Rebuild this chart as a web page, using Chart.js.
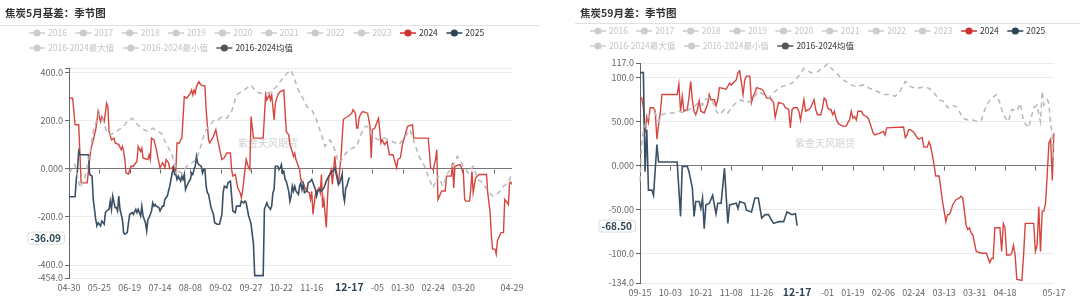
<!DOCTYPE html>
<html>
<head>
<meta charset="utf-8">
<script src="https://cdn.jsdelivr.net/npm/chart.js@4.4.1/dist/chart.umd.min.js"></script>
<style>
  html, body { margin: 0; padding: 0; background: #fff; }
  body { width: 1080px; height: 301px; position: relative; overflow: hidden; }
  canvas { position: absolute; top: 0; }
  #basis { left: 0; }
  #spread { left: 575px; }
</style>
</head>
<body>
<canvas id="basis" width="540" height="301"></canvas>
<canvas id="spread" width="505" height="301"></canvas>
<script>
const FONT = '"Noto Sans CJK SC", "Noto Sans", sans-serif';

// legend shared by both panels (only 2024, 2025 and the mean are switched on)
const legendNames = ['2016', '2017', '2018', '2019', '2020', '2021', '2022', '2023', '2024', '2025',
  '2016-2024最大值', '2016-2024最小值', '2016-2024均值'];
const legendColors = ['#ccc', '#ccc', '#ccc', '#ccc', '#ccc', '#ccc', '#ccc', '#ccc', '#d0332e', '#2f4554',
  '#ccc', '#ccc', '#555'];
const legendActive = [0, 0, 0, 0, 0, 0, 0, 0, 1, 1, 0, 0, 1];
const legendRowBreak = 10;

// ---- 焦炭5月基差 ----
const basis2024 = [
  ['04-30', 294], ['05-03', 294], ['05-05', 184], ['05-08', 184], ['05-10', -58], ['05-15', -58],
  ['05-17', 39], ['05-18', 80], ['05-20', 121], ['05-22', 163], ['05-23', 197], ['05-24', 239],
  ['05-26', 197], ['05-27', 218], ['05-29', 197], ['05-31', 273], ['06-01', 260], ['06-02', 156],
  ['06-04', 121], ['06-06', 128], ['06-07', 108], ['06-10', 101], ['06-12', 80], ['06-13', 94],
  ['06-14', 73], ['06-15', 39], ['06-16', -17], ['06-18', -21], ['06-20', 11], ['06-22', 11],
  ['06-25', 32], ['06-26', 94], ['06-28', 73], ['06-29', 87], ['06-30', 46], ['07-04', 39],
  ['07-05', 59], ['07-06', 39], ['07-07', 128], ['07-09', 121], ['07-11', 80], ['07-12', 52],
  ['07-14', 4], ['07-16', 25], ['07-17', 18], ['07-18', 4], ['07-19', 39], ['07-21', 25],
  ['07-22', 0], ['07-24', 4], ['07-25', 11], ['07-27', -10], ['07-28', 108], ['07-30', 108],
  ['07-31', 121], ['08-01', 128], ['08-03', 301], ['08-05', 294], ['08-07', 308], ['08-08', 315],
  ['08-09', 328], ['08-10', 308], ['08-11', 328], ['08-12', 315], ['08-13', 342], ['08-15', 363],
  ['08-17', 349], ['08-20', 345], ['08-21', 246], ['08-23', 121], ['08-24', 108], ['08-27', 135],
  ['08-29', 163], ['08-31', 108], ['09-03', 39], ['09-05', 46], ['09-07', 66], ['09-10', 66],
  ['09-11', -3], ['09-12', -30], ['09-14', -23], ['09-16', -79], ['09-18', -99], ['09-19', -120],
  ['09-20', -93], ['09-22', -3], ['09-23', 39], ['09-25', 4], ['09-26', -3], ['09-27', 218],
  ['09-29', 128], ['10-07', 128], ['10-09', 308], ['10-10', 287], ['10-12', 308], ['10-13', 287],
  ['10-14', 308], ['10-16', 204], ['10-17', 273], ['10-19', 308], ['10-21', 322], ['10-24', 328],
  ['10-26', 156], ['10-28', 142], ['10-29', 101], ['10-30', 87], ['11-01', 52], ['11-02', 66],
  ['11-03', 39], ['11-04', 25], ['11-06', -3], ['11-07', -44], ['11-09', -58], ['11-10', -72],
  ['11-12', -93], ['11-14', -99], ['11-15', -127], ['11-16', -93], ['11-17', -189], ['11-19', -106],
  ['11-20', -93], ['11-22', -79], ['11-23', -99], ['11-24', -23], ['11-25', -161], ['11-26', -127],
  ['11-28', -244], ['11-29', -120], ['11-30', -37], ['12-02', -3], ['12-03', -65], ['12-05', 52],
  ['12-06', -3], ['12-08', -58], ['12-10', 39], ['12-12', 204], ['12-13', 211], ['12-16', 218],
  ['12-19', 232], ['12-20', 246], ['12-22', 232], ['12-23', 170], ['12-24', 170], ['12-25', 211],
  ['12-26', 225], ['12-28', 239], ['01-01', 232], ['01-03', 177], ['01-04', 46], ['01-05', 163],
  ['01-07', 170], ['01-10', 211], ['01-11', 163], ['01-12', 108], ['01-13', 121], ['01-15', 101],
  ['01-17', 115], ['01-18', 87], ['01-19', 59], ['01-22', 59], ['01-23', 39], ['01-25', 4],
  ['01-26', 39], ['01-28', 46], ['01-30', 108], ['02-01', 142], ['02-03', 177], ['02-07', 184],
  ['02-08', 128], ['02-20', 128], ['02-22', 4], ['02-24', -3], ['02-26', 39], ['02-27', 80],
  ['02-28', -127], ['03-02', -92], ['03-05', -92], ['03-06', -30], ['03-10', -30], ['03-11', 25],
  ['03-12', -79], ['03-13', 11], ['03-17', 18], ['03-18', 11], ['03-20', -23], ['03-21', -127],
  ['03-22', -134], ['03-25', -134], ['03-26', -86], ['03-27', -10], ['03-28', -99], ['03-30', -37],
  ['04-02', -23], ['04-08', -23], ['04-09', -99], ['04-11', -182], ['04-12', -279], ['04-13', -334],
  ['04-15', -334], ['04-16', -355], ['04-17', -299], ['04-20', -265], ['04-22', -265], ['04-23', -127],
  ['04-25', -140], ['04-26', -148], ['04-27', -58], ['04-28', -55], ['04-29', -65]
];
const basis2025 = [
  ['04-30', -116], ['05-05', -116], ['05-06', -44], ['05-07', -3], ['05-08', 73], ['05-09', 59],
  ['05-16', 59], ['05-17', -23], ['05-19', -30], ['05-20', -127], ['05-22', -210], ['05-23', -237],
  ['05-24', -224], ['05-26', -237], ['05-27', -217], ['05-29', -230], ['05-30', -182], ['05-31', -175],
  ['06-02', -168], ['06-03', -134], ['06-04', -168], ['06-05', -113], ['06-07', -161], ['06-08', -161],
  ['06-09', -175], ['06-10', -113], ['06-11', -168], ['06-13', -210], ['06-14', -265], ['06-15', -272],
  ['06-17', -265], ['06-18', -224], ['06-19', -189], ['06-21', -182], ['06-22', -189], ['06-24', -168],
  ['06-25', -182], ['06-26', -168], ['06-28', -196], ['06-29', -155], ['06-30', -196], ['07-02', -224],
  ['07-03', -258], ['07-04', -210], ['07-05', -203], ['07-07', -175], ['07-08', -141], ['07-09', -155],
  ['07-10', -148], ['07-11', -155], ['07-13', -161], ['07-14', -175], ['07-16', -155], ['07-17', -155],
  ['07-18', -127], ['07-20', -113], ['07-21', -92], ['07-22', -72], ['07-23', -44], ['07-24', -17],
  ['07-25', 4], ['07-26', -23], ['07-27', -23], ['07-28', -44], ['07-29', -30], ['07-31', -51],
  ['08-01', -30], ['08-02', -44], ['08-03', -23], ['08-04', -86], ['08-05', -72], ['08-07', -51],
  ['08-08', -44], ['08-09', -17], ['08-10', -23], ['08-11', -3], ['08-12', 11], ['08-13', 52],
  ['08-14', 25], ['08-15', 18], ['08-17', 11], ['08-18', -17], ['08-19', -3], ['08-20', -3],
  ['08-21', -72], ['08-22', -99], ['08-23', -106], ['08-25', -161], ['08-27', -189], ['08-28', -224],
  ['08-30', -230], ['09-01', -230], ['09-03', -189], ['09-04', -99], ['09-05', -72], ['09-07', -79],
  ['09-08', -58], ['09-10', -51], ['09-11', -113], ['09-12', -175], ['09-14', -182], ['09-15', -155],
  ['09-18', -155], ['09-19', -134], ['09-21', -141], ['09-22', -134], ['09-23', -141], ['09-25', -196],
  ['09-26', -210], ['09-27', -230], ['09-29', -313], ['09-30', -444], ['10-07', -444], ['10-08', -168],
  ['10-10', -141], ['10-11', -155], ['10-13', -168], ['10-14', -155], ['10-15', -99], ['10-16', -86],
  ['10-17', 11], ['10-19', 11], ['10-20', -3], ['10-21', 4], ['10-22', 18], ['10-23', -17],
  ['10-24', -10], ['10-25', -44], ['10-26', -51], ['10-28', -92], ['10-29', -134], ['10-30', -113],
  ['10-31', -72], ['11-01', -92], ['11-02', -72], ['11-03', -92], ['11-05', -106], ['11-06', -72],
  ['11-07', -58], ['11-08', -86], ['11-09', -65], ['11-10', -99], ['11-12', -92], ['11-13', -58],
  ['11-15', -51], ['11-16', -44], ['11-17', -58], ['11-19', -86], ['11-20', -113], ['11-21', -92],
  ['11-23', -86], ['11-24', -92], ['11-26', -79], ['11-27', -65], ['11-28', -51], ['11-30', -30],
  ['12-01', -23], ['12-02', -17], ['12-04', -3], ['12-05', 4], ['12-06', -17], ['12-08', -65],
  ['12-09', -58], ['12-11', -23], ['12-12', -106], ['12-13', -134], ['12-14', -79], ['12-15', -72],
  ['12-16', -51], ['12-17', -36.09]
];
const basisMean = [
  ['04-30', -17], ['05-03', 4], ['05-05', 18], ['05-09', -79], ['05-13', -37], ['05-17', 59],
  ['05-20', 156], ['05-23', 204], ['05-25', 232], ['05-28', 204], ['05-31', 156], ['06-03', 142],
  ['06-08', 156], ['06-14', 177], ['06-18', 204], ['06-21', 211], ['06-23', 197], ['06-27', 177],
  ['07-01', 163], ['07-04', 156], ['07-08', 170], ['07-12', 156], ['07-15', 149], ['07-18', 115],
  ['07-21', 87], ['07-24', 59], ['07-26', 18], ['07-29', -10], ['08-01', -17], ['08-05', 11],
  ['08-09', 25], ['08-13', 39], ['08-17', 101], ['08-20', 156], ['08-23', 175], ['08-27', 200],
  ['08-31', 204], ['09-03', 218], ['09-07', 211], ['09-11', 239], ['09-15', 308], ['09-19', 322],
  ['09-23', 335], ['09-27', 349], ['10-01', 322], ['10-04', 315], ['10-07', 315], ['10-11', 315],
  ['10-18', 342], ['10-23', 377], ['10-27', 400], ['10-30', 411], ['11-02', 370], ['11-05', 328],
  ['11-08', 301], ['11-12', 259], ['11-16', 246], ['11-20', 204], ['11-24', 142], ['11-27', 94],
  ['12-01', 121], ['12-05', 80], ['12-08', 25], ['12-11', 39], ['12-13', 59], ['12-17', 80],
  ['12-23', 94], ['12-27', 149], ['12-30', 177], ['01-01', 177], ['01-05', 135], ['01-10', 121],
  ['01-15', 128], ['01-21', 115], ['01-27', 101], ['02-01', 135], ['02-05', 163], ['02-09', 101],
  ['02-13', 46], ['02-17', 11], ['02-21', -44], ['02-24', -79], ['02-28', -30], ['03-03', -72],
  ['03-07', -17], ['03-11', 11], ['03-15', 52], ['03-20', 11], ['03-24', -17], ['03-28', 11],
  ['04-01', -44], ['04-05', -58], ['04-09', -92], ['04-13', -113], ['04-18', -99], ['04-22', -72],
  ['04-26', -58], ['04-29', -17]
];
const basisYTicks = [-454, -400, -200, 0, 200, 400, 420];
const basisYLabels = ['-454.0', '-400.0', '-200.0', '0.000', '200.0', '400.0', ''];
const basisXTicks = ['04-30', '05-25', '06-19', '07-14', '08-08', '09-02', '09-27', '10-22', '11-16',
  '12-11', '01-05', '01-30', '02-24', '03-20', '04-14'];
const basisXHidden = ['12-11', '04-14'];

// ---- 焦炭59月差 ----
const spread2024 = [
  ['09-15', 77], ['09-16', 77], ['09-17', 66], ['09-18', 37], ['09-19', 56], ['09-20', 49],
  ['09-21', 66], ['09-23', 66], ['09-24', 62], ['09-25', 30], ['09-26', 47], ['09-27', 60],
  ['09-28', 81], ['10-07', 81], ['10-08', 93], ['10-09', 62], ['10-10', 79], ['10-11', 62],
  ['10-13', 64], ['10-14', 78], ['10-15', 96], ['10-16', 74], ['10-17', 62], ['10-18', 58],
  ['10-19', 64], ['10-20', 74], ['10-21', 62], ['10-23', 60], ['10-25', 70], ['10-26', 81],
  ['10-27', 75], ['10-29', 75], ['10-30', 68], ['10-31', 75], ['11-01', 89], ['11-05', 87],
  ['11-07', 94], ['11-08', 92], ['11-10', 96], ['11-11', 98], ['11-12', 106], ['11-13', 108],
  ['11-15', 81], ['11-16', 98], ['11-17', 102], ['11-19', 102], ['11-20', 72], ['11-21', 79],
  ['11-22', 83], ['11-23', 89], ['11-26', 87], ['11-27', 85], ['11-29', 77], ['12-01', 77],
  ['12-03', 72], ['12-04', 55], ['12-06', 72], ['12-09', 70], ['12-10', 66], ['12-12', 64],
  ['12-13', 43], ['12-14', 64], ['12-15', 66], ['12-17', 66], ['12-18', 62], ['12-19', 52],
  ['12-21', 75], ['12-22', 62], ['12-24', 64], ['12-25', 66], ['12-27', 75], ['12-28', 64],
  ['12-29', 58], ['12-31', 58], ['01-01', 66], ['01-02', 77], ['01-03', 75], ['01-04', 66],
  ['01-05', 64], ['01-06', 64], ['01-07', 58], ['01-08', 62], ['01-09', 54], ['01-10', 49],
  ['01-11', 47], ['01-13', 45], ['01-15', 45], ['01-16', 49], ['01-17', 52], ['01-18', 62],
  ['01-19', 54], ['01-20', 56], ['01-21', 52], ['01-22', 62], ['01-24', 62], ['01-25', 58],
  ['01-27', 56], ['01-28', 54], ['01-29', 49], ['01-30', 43], ['01-31', 37], ['02-01', 35],
  ['02-04', 37], ['02-06', 39], ['02-07', 35], ['02-08', 43], ['02-18', 44], ['02-19', 32],
  ['02-20', 35], ['02-21', 41], ['02-22', 41], ['02-24', 38], ['02-25', 35], ['02-26', 32],
  ['02-27', 30], ['02-29', 32], ['03-01', 21], ['03-03', 21], ['03-04', 27], ['03-05', 22],
  ['03-06', 12], ['03-07', 1], ['03-08', -12], ['03-10', -12], ['03-11', -26], ['03-12', -41],
  ['03-13', -52], ['03-14', -64], ['03-15', -56], ['03-16', -56], ['03-17', -52], ['03-18', -45],
  ['03-20', -39], ['03-22', -37], ['03-23', -35], ['03-24', -37], ['03-25', -52], ['03-26', -68],
  ['03-27', -73], ['03-28', -71], ['03-29', -77], ['03-30', -79], ['03-31', -89], ['04-01', -98],
  ['04-04', -100], ['04-07', -100], ['04-09', -111], ['04-10', -106], ['04-11', -106], ['04-12', -71],
  ['04-15', -71], ['04-16', -98], ['04-17', -66], ['04-18', -71], ['04-19', -102], ['04-21', -102],
  ['04-22', -100], ['04-23', -91], ['04-24', -102], ['04-25', -130], ['04-28', -131], ['04-29', -102],
  ['04-30', -66], ['05-05', -66], ['05-06', -98], ['05-07', -91], ['05-08', -47], ['05-09', -98],
  ['05-10', -52], ['05-11', -52], ['05-12', -43], ['05-13', -10], ['05-14', 26], ['05-15', 30],
  ['05-16', -17], ['05-17', 37]
];
const spread2025 = [
  ['09-15', 106], ['09-17', 106], ['09-18', -7], ['09-19', 41], ['09-20', -28], ['09-22', -28],
  ['09-23', -34], ['09-25', 24], ['09-26', 4], ['10-07', 4], ['10-09', -58], ['10-10', -1],
  ['10-13', -1], ['10-14', -7], ['10-16', -26], ['10-17', -58], ['10-18', -41], ['10-20', -41],
  ['10-21', -49], ['10-22', -37], ['10-23', -72], ['10-24', -45], ['10-26', -43], ['10-28', -34],
  ['10-29', -45], ['10-30', -55], ['10-31', -43], ['11-02', -43], ['11-04', -3], ['11-06', -66],
  ['11-07', -45], ['11-11', -43], ['11-12', -49], ['11-13', -41], ['11-16', -43], ['11-17', -51],
  ['11-20', -53], ['11-22', -37], ['11-24', -37], ['11-26', -60], ['11-28', -56], ['11-30', -56],
  ['12-03', -66], ['12-06', -64], ['12-09', -64], ['12-11', -53], ['12-13', -55], ['12-14', -56],
  ['12-16', -55], ['12-17', -68.5]
];
const spreadMean = [
  ['09-15', -18], ['09-16', 24], ['09-17', 40], ['09-19', 52], ['09-21', 58], ['09-24', 60],
  ['09-26', 50], ['09-28', 58], ['10-01', 60], ['10-05', 60], ['10-08', 62], ['10-11', 60],
  ['10-14', 64], ['10-17', 67], ['10-20', 73], ['10-22', 69], ['10-23', 75], ['10-26', 77],
  ['10-28', 73], ['10-30', 62], ['11-01', 58], ['11-04', 64], ['11-06', 60], ['11-08', 66],
  ['11-11', 72], ['11-14', 75], ['11-16', 72], ['11-19', 73], ['11-22', 79], ['11-24', 85],
  ['11-27', 81], ['11-30', 77], ['12-03', 83], ['12-06', 88], ['12-08', 90], ['12-11', 92],
  ['12-14', 94], ['12-17', 100], ['12-19', 105], ['12-21', 111], ['12-25', 106], ['12-29', 107],
  ['01-01', 111], ['01-04', 116], ['01-05', 113], ['01-09', 106], ['01-13', 98], ['01-18', 92],
  ['01-21', 90], ['01-25', 92], ['01-29', 88], ['02-02', 85], ['02-06', 81], ['02-10', 81],
  ['02-13', 79], ['02-16', 85], ['02-19', 96], ['02-22', 90], ['02-26', 88], ['03-01', 90],
  ['03-04', 88], ['03-07', 83], ['03-10', 75], ['03-13', 73], ['03-15', 66], ['03-18', 69],
  ['03-21', 66], ['03-24', 54], ['03-27', 52], ['03-30', 52], ['04-02', 50], ['04-04', 52],
  ['04-07', 69], ['04-10', 77], ['04-13', 81], ['04-15', 71], ['04-17', 58], ['04-20', 50],
  ['04-22', 64], ['04-25', 62], ['04-27', 71], ['04-29', 50], ['05-02', 43], ['05-05', 66],
  ['05-07', 69], ['05-09', 50], ['05-10', 85], ['05-11', 69], ['05-13', 75], ['05-14', 71],
  ['05-15', 46], ['05-16', 37], ['05-17', -5]
];
const spreadYTicks = [-134, -100, -50, 0, 50, 100, 117];
const spreadYLabels = ['-134.0', '-100.0', '-50.00', '0.000', '50.00', '100.0', '117.0'];
const spreadXTicks = ['09-15', '10-03', '10-21', '11-08', '11-26', '12-14', '01-01', '01-19', '02-06',
  '02-24', '03-13', '03-31', '04-18', '05-06'];
const spreadXHidden = ['12-14', '05-06'];

// one label per calendar day (leap season so 02-29 is on the axis)
const dayLabels = (from, to) => {
  const out = [];
  for (let d = new Date(from); d <= new Date(to); d.setUTCDate(d.getUTCDate() + 1)) {
    out.push(d.toISOString().slice(5, 10));
  }
  return out;
};
const toPoints = pairs => pairs.map(([x, y]) => ({ x, y }));

const chrome = {
  id: 'chrome',
  beforeDraw(chart, args, o) {
    const { ctx } = chart;
    ctx.save();
    ctx.textBaseline = 'middle';
    ctx.fillStyle = '#333';
    ctx.font = `bold 10.5px ${FONT}`;
    ctx.fillText(o.title, o.titleX, o.titleY);
    ctx.strokeStyle = '#e0e0e0';
    ctx.lineWidth = 1;
    ctx.beginPath();
    ctx.moveTo(0, o.ruleY + 0.5);
    ctx.lineTo(chart.width, o.ruleY + 0.5);
    ctx.stroke();

    // legend, two rows, left aligned
    ctx.font = `8.5px ${FONT}`;
    let lx = o.legendX, row = 0;
    legendNames.forEach((name, i) => {
      if (i === legendRowBreak) { lx = o.legendX; row = 1; }
      const ly = o.legendY + row * 15;
      ctx.strokeStyle = legendColors[i];
      ctx.lineWidth = 1.5;
      ctx.beginPath();
      ctx.moveTo(lx, ly);
      ctx.lineTo(lx + 16, ly);
      ctx.stroke();
      ctx.fillStyle = legendColors[i];
      ctx.beginPath();
      ctx.arc(lx + 8, ly, 3.6, 0, Math.PI * 2);
      ctx.fill();
      ctx.fillStyle = legendActive[i] ? '#333' : '#c4c4c4';
      ctx.fillText(name, lx + 19, ly);
      lx += 19 + ctx.measureText(name).width + 8.5;
    });

    // watermark
    ctx.font = `10px ${FONT}`;
    ctx.fillStyle = '#d2d2d2';
    ctx.textAlign = 'center';
    ctx.fillText('紫金天风期货', o.markX, 143);
    ctx.restore();
  },
  beforeDatasetsDraw(chart, args, o) {
    // small ticks hanging off the zero line
    const { ctx, scales: { x, y } } = chart;
    const y0 = Math.round(y.getPixelForValue(0)) + 0.5;
    ctx.save();
    ctx.strokeStyle = '#666';
    ctx.lineWidth = 1;
    o.zeroTicks.forEach(d => {
      const px = Math.round(x.getPixelForValue(chart.data.labels.indexOf(d))) + 0.5;
      ctx.beginPath();
      ctx.moveTo(px, y0);
      ctx.lineTo(px, y0 + 4);
      ctx.stroke();
    });
    ctx.restore();
  },
  afterDraw(chart, args, o) {
    // axis pointer labels
    const { ctx, chartArea: a, scales: { x, y } } = chart;
    ctx.save();
    ctx.textBaseline = 'middle';
    ctx.textAlign = 'center';

    ctx.font = `bold 10.5px ${FONT}`;
    const px = x.getPixelForValue(chart.data.labels.indexOf(o.pointerDate));
    const tw = ctx.measureText(o.pointerDate).width;
    const ly = a.bottom + 9;
    ctx.fillStyle = '#fff';
    ctx.fillRect(px - tw / 2 - o.pointerPad, ly - 7, tw + o.pointerPad * 2, 14);
    ctx.fillStyle = '#2f4554';
    ctx.fillText(o.pointerDate, px, ly);

    ctx.font = `bold 10px ${FONT}`;
    const vw = ctx.measureText(o.pointerText).width;
    const py = y.getPixelForValue(o.pointerAt);
    const bx = a.left - 5 - (vw + 6);
    ctx.fillStyle = '#fff';
    ctx.strokeStyle = '#dcdcdc';
    ctx.beginPath();
    ctx.roundRect(bx + 0.5, py - 5.5, vw + 6, 12, 3);
    ctx.fill();
    ctx.stroke();
    ctx.fillStyle = '#2f4554';
    ctx.fillText(o.pointerText, bx + 3 + vw / 2, py + 0.5);
    ctx.restore();
  }
};

const makeChart = (id, p) => {
  const days = dayLabels(p.from, p.to);
  return new Chart(document.getElementById(id), {
    type: 'line',
    data: {
      labels: days,
      datasets: [
        { label: '2016-2024均值', data: toPoints(p.mean), borderColor: '#b8b8b8', borderWidth: 1.5, borderDash: [5, 4] },
        { label: '2025', data: toPoints(p.s2025), borderColor: '#3b5064', borderWidth: 1.6 },
        { label: '2024', data: toPoints(p.s2024), borderColor: '#d6453f', borderWidth: 1.4 }
      ]
    },
    options: {
      responsive: false,
      animation: false,
      devicePixelRatio: 1,
      elements: { point: { radius: 0 }, line: { tension: 0, fill: false } },
      layout: { padding: { top: p.top, right: p.right, left: 0, bottom: 0 } },
      plugins: {
        legend: { display: false },
        tooltip: { enabled: false },
        chrome: {
          title: p.title, titleX: 5, titleY: p.titleY, ruleY: p.ruleY,
          legendX: p.legendX, legendY: p.legendY, markX: p.markX,
          zeroTicks: p.xTicks,
          pointerDate: '12-17', pointerText: p.pointerText, pointerAt: p.pointerAt, pointerPad: p.pointerPad
        }
      },
      scales: {
        x: {
          type: 'category',
          afterBuildTicks: s => {
            s.ticks = p.xTicks.filter(d => !p.xHidden.includes(d))
              .concat(days[days.length - 1])
              .map(d => ({ value: days.indexOf(d) }));
          },
          afterFit: s => { s.height = p.xHeight; },
          ticks: { autoSkip: false, maxRotation: 0, padding: 4, color: '#666', font: { family: FONT, size: 9 },
            callback: v => days[v] },
          grid: { display: false, drawTicks: false },
          border: { display: false }
        },
        y: {
          min: p.yTicks[0],
          max: p.yTicks[p.yTicks.length - 1],
          afterBuildTicks: s => { s.ticks = p.yTicks.map(v => ({ value: v })); },
          afterFit: s => { s.width = p.yWidth; },
          ticks: { autoSkip: false, padding: 2, color: '#666', font: { family: FONT, size: 9 },
            callback: (v, i) => p.yLabels[i] },
          grid: { color: c => (c.tick && c.tick.value === 0 ? '#777' : '#ebebeb'), tickColor: '#666', tickLength: 4 },
          border: { color: '#666' }
        }
      }
    },
    plugins: [chrome]
  });
};

makeChart('basis', {
  title: '焦炭5月基差：季节图', from: '2023-04-30', to: '2024-04-29',
  s2024: basis2024, s2025: basis2025, mean: basisMean,
  yTicks: basisYTicks, yLabels: basisYLabels, xTicks: basisXTicks, xHidden: basisXHidden,
  top: 68, right: 28, yWidth: 69, xHeight: 23,
  titleY: 13, ruleY: 25, legendX: 29, legendY: 33, markX: 268,
  pointerText: '-36.09', pointerAt: -286, pointerPad: 7
});

makeChart('spread', {
  title: '焦炭59月差：季节图', from: '2023-09-15', to: '2024-05-17',
  s2024: spread2024, s2025: spread2025, mean: spreadMean,
  yTicks: spreadYTicks, yLabels: spreadYLabels, xTicks: spreadXTicks, xHidden: spreadXHidden,
  top: 63, right: 26, yWidth: 65, xHeight: 18,
  titleY: 13, ruleY: 23, legendX: 15, legendY: 31, markX: 250,
  pointerText: '-68.50', pointerAt: -68.5, pointerPad: 9
});
</script>
</body>
</html>
